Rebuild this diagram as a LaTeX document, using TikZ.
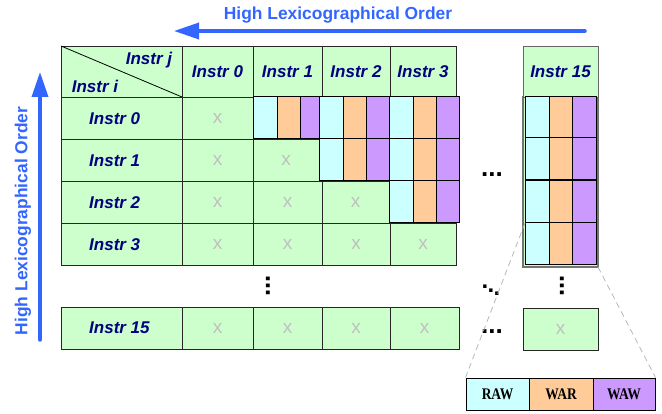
\documentclass[tikz,border=0pt]{standalone}
\usepackage{fontspec}
\setmainfont{Liberation Sans}
\newfontfamily\legendfont{Liberation Serif}
\usetikzlibrary{arrows.meta}

\definecolor{cellgreen}{HTML}{CCFFCC}
\definecolor{rawcyan}{HTML}{CCFFFF}
\definecolor{warorange}{HTML}{FFCC99}
\definecolor{wawpurple}{HTML}{CC99FF}
\definecolor{ordblue}{HTML}{3366FF}
\definecolor{labnavy}{HTML}{000080}
\definecolor{xgrey}{HTML}{C0C0C0}

% \cellbox{name}{x1}{y1}{x2}{y2}{style}{text}
\newcommand\cellbox[7]{%
  \node[#6, minimum width={(#4)-(#2)}, minimum height={(#5)-(#3)}]
    (#1) at ({((#2)+(#4))/2},{((#3)+(#5))/2}) {#7};}
% \depcells{prefix}{x0}{x1}{x2}{x3}{y1}{y2}: RAW / WAR / WAW triple
\newcommand\depcells[7]{%
  \cellbox{#1-raw}{#2}{#6}{#3}{#7}{raw}{}%
  \cellbox{#1-war}{#3}{#6}{#4}{#7}{war}{}%
  \cellbox{#1-waw}{#4}{#6}{#5}{#7}{waw}{}}
% taller legend lettering
\newcommand\legtext[1]{\scalebox{1}[1.2]{#1}}

\begin{document}
\begin{tikzpicture}[x=1pt,y=-1pt,
  box/.style={inner sep=0pt, outer sep=0pt},
  gcell/.style={box, fill=cellgreen, draw=black!85, line width=0.9pt},
  xcell/.style={gcell, text=xgrey, font=\fontsize{19}{19}\selectfont},
  raw/.style={box, fill=rawcyan, draw=black, line width=1pt},
  war/.style={box, fill=warorange, draw=black, line width=1pt},
  waw/.style={box, fill=wawpurple, draw=black, line width=1pt},
  lab/.style={inner sep=0pt, text=labnavy,
    font=\fontsize{17}{17}\selectfont\bfseries\itshape},
  hcell/.style={gcell, lab},
  ord/.style={inner sep=0pt, text=ordblue,
    font=\fontsize{17.4}{17.4}\selectfont\bfseries},
  ordarrow/.style={draw=ordblue, line width=3.5pt, line cap=round,
    -{Triangle[length=25pt,width=16pt]}},
  dots/.style={inner sep=0pt, font=\fontsize{26}{26}\selectfont\bfseries},
  dot/.style={inner sep=0pt, font=\fontsize{24}{24}\selectfont\bfseries},
  zoomline/.style={draw=black!28, line width=0.8pt, dash pattern=on 6pt off 4pt},
  legcell/.style={draw=black, line width=1pt,
    font=\legendfont\fontsize{13.5}{13.5}\selectfont\bfseries}]
\useasboundingbox (0,0) rectangle (662,414);

% ---- order arrows ----
\coordinate (toptail) at (585,31);
\coordinate (tophead) at (174,31);
\draw[ordarrow] (toptail) -- (tophead);
\node[ord] (toplabel) at (338,15) {High Lexicographical Order};

\coordinate (lefttail) at (40,340);
\coordinate (lefthead) at (40,72);
\draw[ordarrow] (lefttail) -- (lefthead);
\node[ord, rotate=90] (leftlabel) at (23,221) {High Lexicographical Order};

% ---- header row ----
\cellbox{corner}{61}{46}{182}{97}{gcell}{}
\draw[black, line width=0.8pt] (corner.north west) -- (corner.south east);
\node[lab] (lj) at (149,60) {Instr j};
\node[lab] (li) at (95,86) {Instr i};
\cellbox{h0}{182}{46}{253}{97}{hcell}{Instr 0}
\cellbox{h1}{253}{46}{322}{97}{hcell}{Instr 1}
\cellbox{h2}{322}{46}{390}{97}{hcell}{Instr 2}
\cellbox{h3}{390}{46}{456}{97}{hcell}{Instr 3}

% ---- row labels ----
\cellbox{r0}{61}{97}{182}{139}{gcell}{}
\cellbox{r1}{61}{139}{182}{181}{gcell}{}
\cellbox{r2}{61}{181}{182}{223}{gcell}{}
\cellbox{r3}{61}{223}{182}{265}{gcell}{}
\cellbox{r15}{61}{307}{182}{349}{gcell}{}
\node[lab, anchor=west] (l0) at (89,119) {Instr 0};
\node[lab, anchor=west] (l1) at (89,161) {Instr 1};
\node[lab, anchor=west] (l2) at (89,203) {Instr 2};
\node[lab, anchor=west] (l3) at (89,245) {Instr 3};
\node[lab, anchor=west] (l15) at (89,328) {Instr 15};

% ---- row Instr 0 ----
\cellbox{x00}{182}{97}{253}{139}{xcell}{x}
\depcells{d01}{253}{277}{300}{319}{97}{139}
\depcells{d02}{319}{343}{366}{389}{97}{139}
\depcells{d03}{389}{413}{436}{459}{97}{139}

% ---- row Instr 1 ----
\cellbox{x10}{182}{139}{253}{181}{xcell}{x}
\cellbox{x11}{253}{139}{319}{181}{xcell}{x}
\depcells{d12}{319}{343}{366}{389}{139}{181}
\depcells{d13}{389}{413}{436}{459}{139}{181}

% ---- row Instr 2 ----
\cellbox{x20}{182}{181}{253}{223}{xcell}{x}
\cellbox{x21}{253}{181}{322}{223}{xcell}{x}
\cellbox{x22}{322}{181}{389}{223}{xcell}{x}
\depcells{d23}{389}{413}{436}{459}{181}{223}

% ---- row Instr 3 ----
\cellbox{x30}{182}{223}{253}{265}{xcell}{x}
\cellbox{x31}{253}{223}{322}{265}{xcell}{x}
\cellbox{x32}{322}{223}{390}{265}{xcell}{x}
\cellbox{x33}{390}{223}{456}{265}{xcell}{x}

% ---- row Instr 15 ----
\cellbox{x150}{182}{307}{253}{349}{xcell}{x}
\cellbox{x151}{253}{307}{322}{349}{xcell}{x}
\cellbox{x152}{322}{307}{390}{349}{xcell}{x}
\cellbox{x153}{390}{307}{459}{349}{xcell}{x}

% ---- column Instr 15 ----
\cellbox{col15}{523}{97}{598}{267}{box, fill=cellgreen, draw=black!55, line width=1.8pt}{}
\cellbox{h15}{523}{46}{598}{97}{hcell, draw=black!60}{Instr 15}
\depcells{c15r0}{525}{549}{572}{596}{97}{138}
\depcells{c15r1}{525}{549}{572}{596}{138}{180}
\depcells{c15r2}{525}{549}{572}{596}{181}{223}
\depcells{c15r3}{525}{549}{572}{596}{223}{265}
\cellbox{x1515}{523}{308}{598}{350}{xcell}{x}

% ---- ellipses ----
\node[dots, rotate=90] (vd1) at (268,286) {...};
\node[dots, rotate=90] (vd2) at (562,286) {...};
\node[dots] (hd1) at (492,175) {...};
\node[dots] (hd2) at (492,332) {...};
\node[dot] (dd1) at (485,287) {.};
\node[dot] (dd2) at (491,290.5) {.};
\node[dot] (dd3) at (497,294) {.};

% ---- legend ----
\cellbox{leg-raw}{466}{378}{529}{410}{legcell, fill=rawcyan}{\legtext{RAW}}
\cellbox{leg-war}{529}{378}{593}{410}{legcell, fill=warorange}{\legtext{WAR}}
\cellbox{leg-waw}{593}{378}{655}{410}{legcell, fill=wawpurple}{\legtext{WAW}}

% ---- zoom lines ----
\draw[zoomline] (c15r3-raw.north west) -- (leg-raw.north west);
\draw[zoomline] (col15.south east) -- (leg-waw.north east);
\end{tikzpicture}
\end{document}
